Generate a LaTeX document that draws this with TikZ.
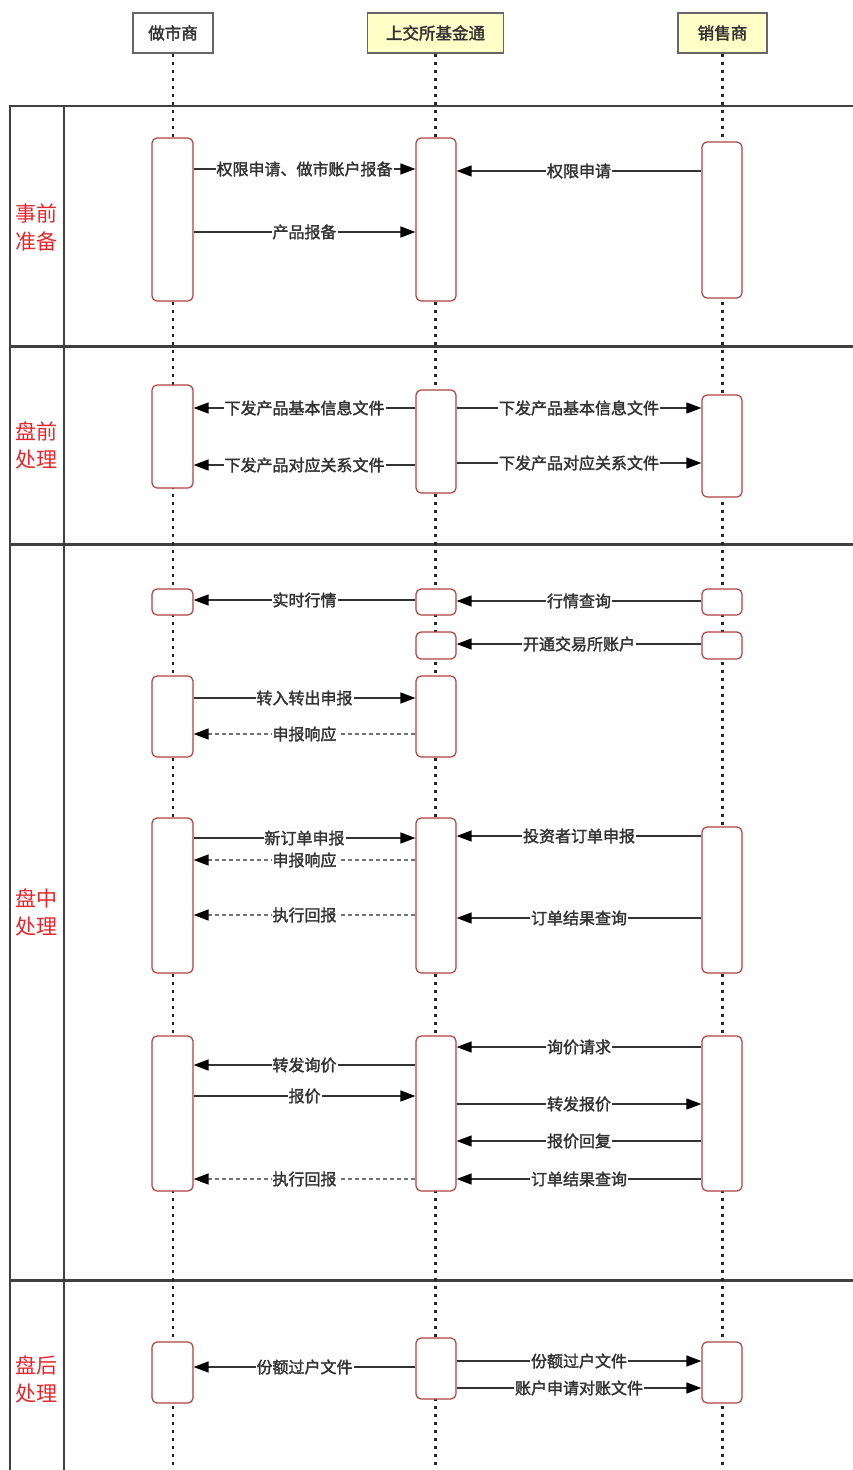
\documentclass[tikz,border=0pt]{standalone}
\usepackage{fontspec}
\setmainfont{Noto Sans CJK SC}
\newfontfamily\semibold{Noto Sans CJK SC}[FakeBold=2]
\usetikzlibrary{arrows.meta,fit,positioning}
\definecolor{actred}{HTML}{B0413E}
\definecolor{headyel}{HTML}{FFFFC8}
\definecolor{linegray}{HTML}{333333}
\definecolor{phasered}{HTML}{E3262B}
\tikzstyle{act} = [draw=actred, fill=white, rounded corners=5pt, line width=1.2pt, inner sep=0pt]
\tikzstyle{head} = [draw=black!60, line width=1.2pt, minimum height=40pt, font=\semibold\fontsize{16.5}{18}\selectfont, text=linegray]
\tikzstyle{msg} = [draw=linegray, line width=1.4pt, -{Triangle[length=15pt,width=11pt,color=black]}]
\tikzstyle{reply} = [msg, draw=black!55, dash pattern=on 4pt off 3pt]
\tikzstyle{lbl} = [fill=white, inner sep=1pt, font=\semibold\fontsize{16}{18}\selectfont, text=linegray]
\tikzstyle{lifeline} = [draw=black!85, line width=2.6pt, dash pattern=on 3pt off 5pt]
\tikzstyle{frame} = [draw=black!75, line width=2.4pt]
\tikzstyle{phase} = [align=center, text=phasered, font=\fontsize{21}{28}\selectfont]

\begin{document}
\begin{tikzpicture}[x=1pt, y=-1pt]
  \useasboundingbox (0,0) rectangle (852,1470);

  % pool and lanes
  \draw[frame] (10,1480) -- (10,106) -- (860,106);
  \draw[frame] (64,106) -- (64,1480);
  \draw[frame, line width=3pt] (10,346) -- (860,346);
  \draw[frame, line width=3pt] (10,544) -- (860,544);
  \draw[frame, line width=3pt] (10,1280) -- (860,1280);

  \node[phase] (pPre)  at (37,227)  {事前\\准备};
  \node[phase] (pOpen) at (37,445)  {盘前\\处理};
  \node[phase] (pDay)  at (37,912)  {盘中\\处理};
  \node[phase] (pPost) at (37,1379) {盘后\\处理};

  % participants
  \node[head, fill=white,   minimum width=80pt]  (hMk) at (173,33)   {做市商};
  \node[head, fill=headyel, minimum width=136pt] (hEx) at (435.5,33) {上交所基金通};
  \node[head, fill=headyel, minimum width=89pt]  (hSl) at (722.5,33) {销售商};

  \draw[lifeline] (hMk.south) -- (hMk.south |- 0,1480);
  \draw[lifeline] (hEx.south) -- (hEx.south |- 0,1480);
  \draw[lifeline] (hSl.south) -- (hSl.south |- 0,1480);

  % activations
  \node[act, fit={(152,138) (193,301)}]   (mk1) {};
  \node[act, fit={(416,138) (456,301)}]   (ex1) {};
  \node[act, fit={(702,142) (742,298)}]   (sl1) {};
  \node[act, fit={(152,385) (193,488)}]   (mk2) {};
  \node[act, fit={(416,390) (456,493)}]   (ex2) {};
  \node[act, fit={(702,395) (742,497)}]   (sl2) {};
  \node[act, fit={(152,589) (193,615)}]   (mk3) {};
  \node[act, fit={(416,589) (456,615)}]   (ex3) {};
  \node[act, fit={(702,589) (742,615)}]   (sl3) {};
  \node[act, fit={(416,632) (456,659)}]   (ex4) {};
  \node[act, fit={(702,632) (742,659)}]   (sl4) {};
  \node[act, fit={(152,676) (193,757)}]   (mk5) {};
  \node[act, fit={(416,676) (456,757)}]   (ex5) {};
  \node[act, fit={(152,818) (193,973)}]   (mk6) {};
  \node[act, fit={(416,818) (456,973)}]   (ex6) {};
  \node[act, fit={(702,827) (742,973)}]   (sl6) {};
  \node[act, fit={(152,1036) (193,1191)}] (mk7) {};
  \node[act, fit={(416,1036) (456,1191)}] (ex7) {};
  \node[act, fit={(702,1036) (742,1191)}] (sl7) {};
  \node[act, fit={(152,1342) (193,1403)}] (mk8) {};
  \node[act, fit={(416,1338) (456,1399)}] (ex8) {};
  \node[act, fit={(702,1342) (742,1403)}] (sl8) {};

  % before the session
  \draw[msg] (mk1.east |- 0,169) -- node[lbl] {权限申请、做市账户报备} (ex1.west |- 0,169);
  \draw[msg] (mk1.east |- 0,232) -- node[lbl] {产品报备}               (ex1.west |- 0,232);
  \draw[msg] (sl1.west |- 0,171) -- node[lbl] {权限申请}               (ex1.east |- 0,171);

  % pre-open
  \draw[msg] (ex2.west |- 0,408) -- node[lbl] {下发产品基本信息文件} (mk2.east |- 0,408);
  \draw[msg] (ex2.east |- 0,408) -- node[lbl] {下发产品基本信息文件} (sl2.west |- 0,408);
  \draw[msg] (ex2.west |- 0,465) -- node[lbl] {下发产品对应关系文件} (mk2.east |- 0,465);
  \draw[msg] (ex2.east |- 0,463) -- node[lbl] {下发产品对应关系文件} (sl2.west |- 0,463);

  % intraday
  \draw[msg]   (ex3.west |- 0,600)  -- node[lbl] {实时行情}       (mk3.east |- 0,600);
  \draw[msg]   (sl3.west |- 0,601)  -- node[lbl] {行情查询}       (ex3.east |- 0,601);
  \draw[msg]   (sl4.west |- 0,644)  -- node[lbl] {开通交易所账户} (ex4.east |- 0,644);
  \draw[msg]   (mk5.east |- 0,698)  -- node[lbl] {转入转出申报}   (ex5.west |- 0,698);
  \draw[reply] (ex5.west |- 0,734)  -- node[lbl] {申报响应}       (mk5.east |- 0,734);
  \draw[msg]   (mk6.east |- 0,838)  -- node[lbl] {新订单申报}     (ex6.west |- 0,838);
  \draw[reply] (ex6.west |- 0,860)  -- node[lbl] {申报响应}       (mk6.east |- 0,860);
  \draw[reply] (ex6.west |- 0,915)  -- node[lbl] {执行回报}       (mk6.east |- 0,915);
  \draw[msg]   (sl6.west |- 0,836)  -- node[lbl] {投资者订单申报} (ex6.east |- 0,836);
  \draw[msg]   (sl6.west |- 0,918)  -- node[lbl] {订单结果查询}   (ex6.east |- 0,918);
  \draw[msg]   (sl7.west |- 0,1047) -- node[lbl] {询价请求}       (ex7.east |- 0,1047);
  \draw[msg]   (ex7.west |- 0,1065) -- node[lbl] {转发询价}       (mk7.east |- 0,1065);
  \draw[msg]   (mk7.east |- 0,1096) -- node[lbl] {报价}           (ex7.west |- 0,1096);
  \draw[msg]   (ex7.east |- 0,1104) -- node[lbl] {转发报价}       (sl7.west |- 0,1104);
  \draw[msg]   (sl7.west |- 0,1141) -- node[lbl] {报价回复}       (ex7.east |- 0,1141);
  \draw[reply] (ex7.west |- 0,1179) -- node[lbl] {执行回报}       (mk7.east |- 0,1179);
  \draw[msg]   (sl7.west |- 0,1179) -- node[lbl] {订单结果查询}   (ex7.east |- 0,1179);

  % after close
  \draw[msg] (ex8.west |- 0,1367) -- node[lbl] {份额过户文件}     (mk8.east |- 0,1367);
  \draw[msg] (ex8.east |- 0,1361) -- node[lbl] {份额过户文件}     (sl8.west |- 0,1361);
  \draw[msg] (ex8.east |- 0,1388) -- node[lbl] {账户申请对账文件} (sl8.west |- 0,1388);
\end{tikzpicture}
\end{document}
